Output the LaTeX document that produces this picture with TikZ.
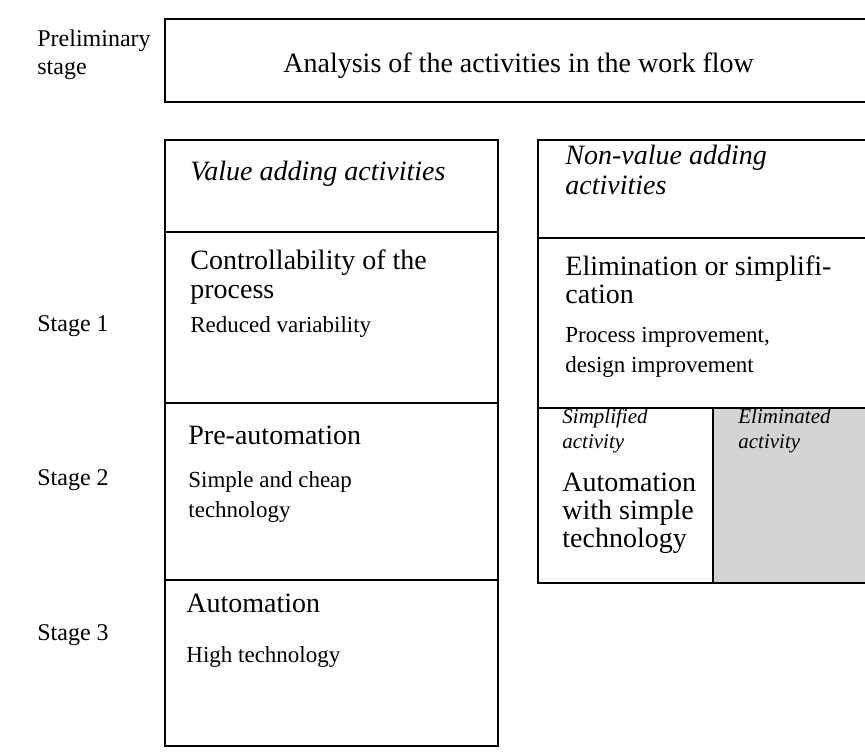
\documentclass[tikz,border=0pt]{standalone}
\usepackage{fontspec}
\setmainfont{Liberation Serif}
\begin{document}
\begin{tikzpicture}[x=0.5pt, y=-0.5pt,
    % Stile fuer die Rahmen der Tabelle
        frame/.style={draw=black, line width=1.4pt},
        shaded/.style={frame, fill=black!17},
    % Stile fuer die Texte (Anker an der Grundlinie der letzten Zeile)
        stagelabel/.style={anchor=base west, inner sep=0pt, align=left, font=\fontsize{12}{14}\selectfont},
        head/.style={anchor=base west, inner sep=0pt, align=left, font=\fontsize{14}{14}\selectfont},
        sub/.style={anchor=base west, inner sep=0pt, align=left, font=\fontsize{11.5}{15}\selectfont},
        tag/.style={anchor=base west, inner sep=0pt, align=left, font=\fontsize{10.5}{12.5}\selectfont\itshape}]

        \path[use as bounding box, clip] (0,0) rectangle (865,753);

        % Rahmen zeichnen
        \draw[frame] (165,19) rectangle (880,102);
        \draw[frame] (165,140) rectangle (498,746);
        \draw[frame] (165,232) -- (498,232);
        \draw[frame] (165,403) -- (498,403);
        \draw[frame] (165,580) -- (498,580);
        \draw[shaded] (713,408) rectangle (880,583);
        \draw[frame] (538,140) rectangle (880,583);
        \draw[frame] (538,238) -- (880,238);
        \draw[frame] (538,408) -- (880,408);

        % Stufen links
        \node[stagelabel] (prelim) at (37,75) {Preliminary\\stage};
        \node[stagelabel] (stage1) at (37,331) {Stage 1};
        \node[stagelabel] (stage2) at (37,485) {Stage 2};
        \node[stagelabel] (stage3) at (37,640) {Stage 3};

        % Kopfzeile
        \node[head] (analysis) at (283,73) {Analysis of the activities in the work flow};

        % Wertschoepfende Aktivitaeten
        \node[head, font=\fontsize{14}{14}\selectfont\itshape] (valadd) at (190,181) {Value adding activities};
        \node[head] (control) at (190,298) {Controllability of the\\process};
        \node[sub] (reduced) at (190,332) {Reduced variability};
        \node[head] (preauto) at (188,444) {Pre-automation};
        \node[sub] (simple) at (188,517) {Simple and cheap\\technology};
        \node[head] (auto) at (186,612) {Automation};
        \node[sub] (hightech) at (186,662) {High technology};

        % Nicht wertschoepfende Aktivitaeten
        \node[head, font=\fontsize{14}{15}\selectfont\itshape] (nonval) at (565,195) {Non-value adding\\activities};
        \node[head] (elim) at (565,303) {Elimination or simplifi-\\cation};
        \node[sub] (procimp) at (565,372) {Process improvement,\\design improvement};
        \node[tag] (simpl) at (562,448) {Simplified\\activity};
        \node[head] (autosimple) at (562,547) {Automation\\with simple\\technology};
        \node[tag] (elimact) at (738,448) {Eliminated\\activity};
    \end{tikzpicture}
\end{document}
